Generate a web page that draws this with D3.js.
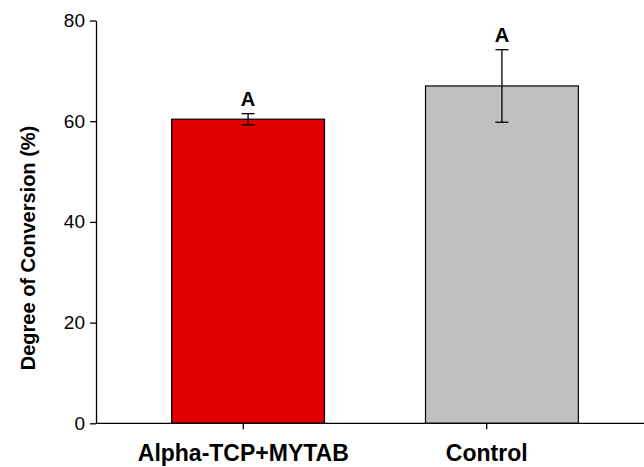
<!DOCTYPE html>
<html>
  <head>
    <meta charset="UTF-8" />
    <style>
      body {
        margin: 0;
        background: #fff;
        font-family: Arial, "Liberation Sans", sans-serif;
      }
    </style>
  </head>
  <body>
    <svg></svg>
    <script src="https://d3js.org/d3.v7.min.js"></script>
    <script>
      let width = 644,
        height = 467;

      // Data
      let categories = ["Alpha-TCP+MYTAB", "Control"];
      let means = [60.4, 67.0];
      let errUp = [1.1, 7.2];
      let errDown = [1.1, 7.2];
      let letters = ["A", "A"];
      let yTicks = [0, 20, 40, 60, 80];
      let barColours = ["#e00000", "#c0c0c0"];

      let svg = d3
        .select("svg")
        .attr("width", width)
        .attr("height", height);

      // Scales
      let y = d3.scaleLinear().domain([0, 80]).range([423.3, 20.5]);

      let xBar = d3
        .scaleBand()
        .domain(categories)
        .range([96, 654])
        .paddingInner(0.398)
        .paddingOuter(0.298);

      // tick marks sit slightly left of the bar centres (as in the original)
      let xTick = d3.scalePoint().domain(categories).range([243.3, 486.7]);

      // Bars
      svg
        .append("g")
        .selectAll("rect")
        .data(categories)
        .enter()
        .append("rect")
        .attr("x", (d) => xBar(d))
        .attr("y", (d, i) => y(means[i]))
        .attr("width", xBar.bandwidth())
        .attr("height", (d, i) => y(0) - y(means[i]))
        .attr("fill", (d, i) => barColours[i])
        .attr("stroke", "#000")
        .attr("stroke-width", 1.2);

      // Error bars
      let eb = svg
        .append("g")
        .selectAll("g")
        .data(categories)
        .enter()
        .append("g")
        .attr("stroke", "#000")
        .attr("stroke-width", 1.3);

      let cx = (d) => xBar(d) + xBar.bandwidth() / 2;

      eb.append("line")
        .attr("x1", cx)
        .attr("x2", cx)
        .attr("y1", (d, i) => y(means[i] + errUp[i]))
        .attr("y2", (d, i) => y(means[i] - errDown[i]));
      eb.append("line")
        .attr("x1", (d) => cx(d) - 6.5)
        .attr("x2", (d) => cx(d) + 6.5)
        .attr("y1", (d, i) => y(means[i] + errUp[i]))
        .attr("y2", (d, i) => y(means[i] + errUp[i]));
      eb.append("line")
        .attr("x1", (d) => cx(d) - 6.5)
        .attr("x2", (d) => cx(d) + 6.5)
        .attr("y1", (d, i) => y(means[i] - errDown[i]))
        .attr("y2", (d, i) => y(means[i] - errDown[i]));

      // Letters
      svg
        .append("g")
        .selectAll("text")
        .data(categories)
        .enter()
        .append("text")
        .attr("x", cx)
        .attr("y", (d, i) => y(means[i] + errUp[i]) - 8)
        .attr("text-anchor", "middle")
        .style("font-size", "20px")
        .style("font-weight", "bold")
        .text((d, i) => letters[i]);

      // Y axis
      let yAxis = svg
        .append("g")
        .attr("transform", "translate(96,0)")
        .call(
          d3
            .axisLeft(y)
            .tickValues(yTicks)
            .tickSize(6)
            .tickPadding(5)
            .tickSizeOuter(0)
        );
      yAxis.select(".domain").attr("stroke-width", 1.3);
      yAxis.selectAll(".tick line").attr("stroke-width", 1.3);
      yAxis
        .selectAll("text")
        .style("font-size", "19px")
        .style("font-family", "Arial, 'Liberation Sans', sans-serif")
        .attr("fill", "#000");

      // X axis
      let xAxis = svg
        .append("g")
        .attr("transform", "translate(0,423.3)");
      xAxis
        .append("line")
        .attr("x1", 96)
        .attr("x2", 654)
        .attr("stroke", "#000")
        .attr("stroke-width", 1.3);
      xAxis
        .selectAll(".xt")
        .data(categories)
        .enter()
        .append("line")
        .attr("x1", (d) => xTick(d))
        .attr("x2", (d) => xTick(d))
        .attr("y1", 0)
        .attr("y2", 6)
        .attr("stroke", "#000")
        .attr("stroke-width", 1.3);
      xAxis
        .selectAll("text")
        .data(categories)
        .enter()
        .append("text")
        .attr("x", (d) => xTick(d))
        .attr("y", 37.5)
        .attr("text-anchor", "middle")
        .style("font-size", "23px")
        .style("font-weight", "bold")
        .text((d) => d);

      // Y title
      svg
        .append("text")
        .attr("transform", "translate(35,248) rotate(-90)")
        .attr("text-anchor", "middle")
        .style("font-size", "20px")
        .style("font-weight", "bold")
        .text("Degree of Conversion (%)");
    </script>
  </body>
</html>
